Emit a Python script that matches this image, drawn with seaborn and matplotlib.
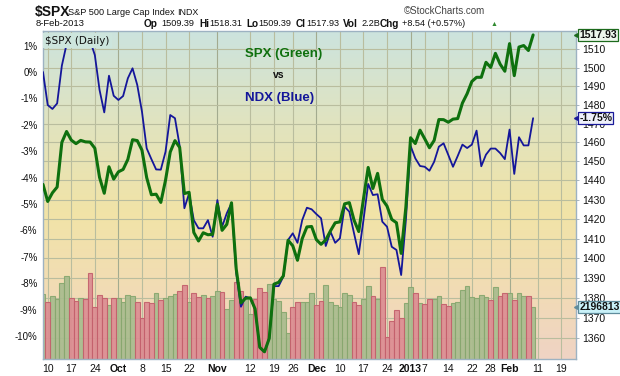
import numpy as np
import pandas as pd
import seaborn as sns
import matplotlib
matplotlib.use("Agg")
import matplotlib.pyplot as plt
from matplotlib.colors import LinearSegmentedColormap, to_rgba
from matplotlib.transforms import blended_transform_factory

# S&P 500 daily closes, 7-Sep-2012 .. 8-Feb-2013 (trading days only)
spx_close = [1437.92, 1429.08, 1433.56, 1436.56, 1459.99, 1465.77, 1461.19, 1459.32, 1461.05, 1460.26,
             1460.15, 1456.89, 1441.59, 1433.32, 1447.15, 1440.67, 1444.49, 1445.75, 1450.99, 1461.40,
             1460.93, 1455.88, 1441.48, 1432.56, 1432.84, 1428.59, 1440.13, 1454.92, 1460.91, 1457.34,
             1433.19, 1433.82, 1413.11, 1408.75, 1412.97, 1411.94, 1412.16, 1427.59, 1414.20, 1417.26,
             1428.39, 1394.53, 1377.51, 1379.85, 1380.03, 1374.53, 1355.49, 1353.33, 1359.88, 1386.89,
             1387.81, 1391.03, 1409.15, 1406.29, 1398.94, 1409.93, 1415.95, 1416.18, 1409.46, 1407.05,
             1409.28, 1413.94, 1418.07, 1418.55, 1427.84, 1428.48, 1419.45, 1413.58, 1430.36, 1446.79,
             1435.81, 1443.69, 1430.15, 1426.66, 1419.83, 1418.10, 1402.43, 1426.19, 1462.42, 1459.37,
             1466.47, 1461.89, 1457.15, 1461.02, 1472.12, 1472.05, 1470.68, 1472.34, 1472.63, 1480.94,
             1485.98, 1492.56, 1494.81, 1494.82, 1502.96, 1500.18, 1507.84, 1501.96, 1498.11, 1513.17,
             1495.71, 1511.29, 1512.12, 1509.39, 1517.93]

# NDX, % change since the first day
ndx_pct = [0.00, -1.25, -1.40, -1.19, 0.24, 1.05, 1.09, 1.12, 1.45, 1.35,
           1.19, 0.64, -0.68, -1.53, -0.14, -0.90, -1.06, -0.91, -0.24, 0.14,
           -0.49, -1.50, -2.89, -3.30, -3.69, -3.70, -3.02, -1.63, -1.75, -2.80,
           -5.16, -4.60, -5.61, -5.92, -5.92, -5.61, -6.24, -4.85, -5.86, -5.35,
           -4.97, -7.62, -8.89, -8.51, -8.57, -8.98, -10.44, -10.60, -10.09, -8.11,
           -8.11, -7.75, -6.36, -6.11, -6.47, -5.61, -5.14, -5.20, -5.38, -5.54,
           -6.59, -6.05, -6.47, -6.30, -5.10, -5.29, -6.11, -6.90, -5.61, -4.24,
           -4.66, -4.63, -5.67, -5.86, -6.62, -6.74, -7.69, -5.61, -2.80, -3.27,
           -3.56, -3.59, -3.74, -3.40, -2.83, -2.70, -3.14, -3.59, -3.18, -2.75,
           -2.88, -2.75, -2.22, -3.57, -3.13, -2.90, -2.90, -3.07, -3.30, -2.18,
           -3.86, -2.47, -2.78, -2.78, -1.75]

# volume, millions of shares
volume = [2734, 2396, 2662, 2535, 3198, 3519, 2565, 2438, 2565, 2522,
          3621, 2184, 2691, 2565, 2269, 2565, 2565, 2396, 2691, 2649,
          2396, 1720, 2396, 2353, 2776, 2493, 2565, 2662, 2734, 2860,
          3114, 2396, 2776, 2607, 2704, 2565, 2662, 2873, 2818, 2113,
          2493, 3253, 2873, 2577, 1901, 2535, 2987, 2843, 3156, 2535,
          2451, 1973, 1086, 2184, 2396, 2396, 2396, 2776, 2269, 2451,
          3114, 2396, 2269, 2210, 2776, 2704, 2396, 2269, 2535, 3097,
          2662, 2535, 3874, 942, 1605, 2070, 1720, 2353, 3029, 2776,
          2353, 2311, 2522, 2522, 2662, 2311, 2239, 2353, 2396, 2915,
          3071, 2607, 2565, 2691, 2607, 2493, 3029, 2662, 2776, 2776,
          2493, 2776, 2662, 2662, 2197]

tick_days = [1, 6, 11, 16, 21, 26, 31, 37, 44, 49, 53, 58, 63, 68, 73, 78, 81, 86, 91, 95, 99, 105, 110]
tick_labels = ["10", "17", "24", "Oct", "8", "15", "22", "Nov", "12", "19", "26", "Dec",
               "10", "17", "24", "2013", "7", "14", "22", "28", "Feb", "11", "19"]
month_labels = ["Oct", "Nov", "Dec", "2013", "Feb"]
pct_ticks = list(range(-10, 2))
price_ticks = list(range(1360, 1520, 10))

days = np.arange(len(spx_close))
up = np.r_[True, np.diff(spx_close) >= 0]
df = pd.DataFrame({"day": days, "spx": spx_close, "ndx": ndx_pct, "vol": volume,
                   "dir": np.where(up, "up", "down")})

sns.set_theme(style="white")
plt.rcParams["font.family"] = ["Liberation Sans", "DejaVu Sans"]

W, H = 620, 376
L, R, T, B = 43, 576, 31, 359
fig = plt.figure(figsize=(W / 100, H / 100), dpi=100)
fig.patch.set_facecolor("white")
ax_v = fig.add_axes([L / W, 1 - B / H, (R - L) / W, (B - T) / H])

xlim = (0, 113.1)
pct_lim = (-10.87, 1.553)
spx_lim = (1349.8, 1520.1)
vol_top = 13858

# background gradient
cmap = LinearSegmentedColormap.from_list(
    "bg", [(0, "#cce4de"), (0.3, "#e2e3bd"), (0.55, "#f1e4a7"), (0.78, "#f2dcb4"), (1, "#efd3c4")])
ax_v.imshow(np.linspace(0, 1, 256).reshape(-1, 1), cmap=cmap, extent=[0, 1, 0, 1],
            origin="upper", aspect="auto", transform=ax_v.transAxes, zorder=0)

# volume bars
pal = {"up": "#a9bc8e", "down": "#dc8d92"}
edges = {"up": "#87a76e", "down": "#c4606c"}
sns.barplot(data=df, x="day", y="vol", hue="dir", palette=pal, dodge=False, width=1.0,
            legend=False, saturation=1, ax=ax_v, zorder=2, linewidth=0.8)
up_rgba = np.array(to_rgba(pal["up"]))
for p in ax_v.patches:
    fc = np.array(p.get_facecolor())
    p.set_edgecolor(edges["up"] if np.allclose(fc[:3], up_rgba[:3], atol=0.02) else edges["down"])
    p.set_alpha(0.92)

# grid lines
grid_c = "#b9bd9e"
for d, lab in zip(tick_days, tick_labels):
    ax_v.axvline(d, color="#a3ab8f" if lab in month_labels else grid_c, lw=0.8, zorder=1)
for v in price_ticks:
    f = np.log(v / spx_lim[0]) / np.log(spx_lim[1] / spx_lim[0])
    ax_v.axhline(f * vol_top, color=grid_c, lw=0.8, zorder=1)

ax_v.set_ylim(0, vol_top)
ax_v.set_xlim(*xlim)
ax_v.set_yticks([])
ax_v.set_xticks(tick_days)
ax_v.set_xticklabels(tick_labels)
ax_v.set_xlabel("")
ax_v.set_ylabel("")
ax_v.tick_params(axis="x", labelsize=7.5, length=2, width=0.6, color="#9aa9b5", pad=1.5,
                 labelcolor="#111111")
for lbl in ax_v.get_xticklabels():
    if lbl.get_text() in month_labels:
        lbl.set_fontweight("bold")
for s in ax_v.spines.values():
    s.set_color("#9db2c2")
    s.set_linewidth(1.0)

# NDX on left percent axis
ax_p = ax_v.twinx()
sns.lineplot(data=df, x="day", y="ndx", ax=ax_p, color="#14169a", lw=1.3)
ax_p.yaxis.tick_left()
ax_p.set_ylim(*pct_lim)
ax_p.set_yticks(pct_ticks)
ax_p.set_yticklabels([f"{t}%" for t in pct_ticks])
ax_p.tick_params(axis="y", labelsize=7, length=0, pad=4, labelcolor="#111111")
ax_p.set_ylabel("")
ax_p.set_xlabel("")
for s in ax_p.spines.values():
    s.set_visible(False)

# SPX on right log price axis
ax_s = ax_v.twinx()
sns.lineplot(data=df, x="day", y="spx", ax=ax_s, color="#0e700e", lw=2.2)
ax_s.set_yscale("log")
ax_s.set_ylim(*spx_lim)
ax_s.set_yticks(price_ticks)
ax_s.set_yticklabels([str(t) for t in price_ticks])
ax_s.minorticks_off()
ax_s.tick_params(axis="y", labelsize=7.5, length=2, width=0.6, color="#9aa9b5", pad=2.5,
                 labelcolor="#111111")
ax_s.set_ylabel("")
ax_s.set_xlabel("")
for s in ax_s.spines.values():
    s.set_visible(False)
ax_s.set_xlim(*xlim)

# in-chart label
ax_s.text(0.004, 0.986, "$SPX (Daily)", transform=ax_s.transAxes, fontsize=7.5,
          family="DejaVu Sans", va="top", ha="left", color="#111111", zorder=10,
          bbox=dict(boxstyle="square,pad=0.25", fc="#cde5dd", ec="none"))

# value tags on the right edge, all drawn on the top axes so they cover tick labels
def tag(src_ax, y, text, fc, ec):
    tr = blended_transform_factory(ax_s.transAxes, src_ax.transData)
    ax_s.plot([1.0015], [y], marker="<", ms=4.5, color=ec, transform=tr, clip_on=False, zorder=11)
    ax_s.text(1.006, y, text, transform=tr, fontsize=7.5, fontweight="bold", va="center",
              ha="left", color="#111111", clip_on=False, zorder=12,
              bbox=dict(boxstyle="square,pad=0.12", fc=fc, ec=ec, lw=0.9))

tag(ax_s, spx_close[-1], f"{spx_close[-1]:.2f}", "#eef6ec", "#1c6a1c")
tag(ax_p, ndx_pct[-1], f"{ndx_pct[-1]:.2f}%", "#eef0fb", "#1a1a9a")
tag(ax_v, volume[-1], "2196813", "#c9f1f8", "#5f8c9c")

# legend-like annotation
fig.text(245 / W, 1 - 54 / H, "SPX (Green)", color="#0e700e", fontsize=9.5, fontweight="bold", va="center")
fig.text(273 / W, 1 - 75 / H, "vs", color="#111111", fontsize=7.5, fontweight="bold", va="center")
fig.text(245 / W, 1 - 97.5 / H, "NDX (Blue)", color="#14169a", fontsize=9.5, fontweight="bold", va="center")

# header
def ftxt(x, y, s, **kw):
    fig.text(x / W, 1 - y / H, s, va="center", ha="left", color="#111111", **kw)

ftxt(35, 12, "$SPX", fontsize=10, fontweight="bold")
ftxt(68, 12.5, "S&P 500 Large Cap Index", fontsize=6.6)
ftxt(177, 12.5, "INDX", fontsize=6.4)
ftxt(36, 24, "8-Feb-2013", fontsize=6.8)
for x, s, bold in [(144, "Op", True), (161, "1509.39", False), (199, "Hi", True),
                   (209, "1518.31", False), (246, "Lo", True), (258, "1509.39", False),
                   (296, "Cl", True), (306, "1517.93", False), (343, "Vol", True),
                   (361, "2.2B", False), (380, "Chg", True), (402, "+8.54 (+0.57%)", False)]:
    ftxt(x, 24, s, fontsize=7.2 if bold else 6.6, fontweight="bold" if bold else "normal")
fig.text(494 / W, 1 - 24 / H, "\u25b2", fontsize=5, color="#2f8a2f", va="center", ha="center")
fig.text(485 / W, 1 - 11 / H, "\u00a9StockCharts.com", fontsize=7, color="#444444", va="center", ha="right")

fig.savefig("out.png", dpi=100)
